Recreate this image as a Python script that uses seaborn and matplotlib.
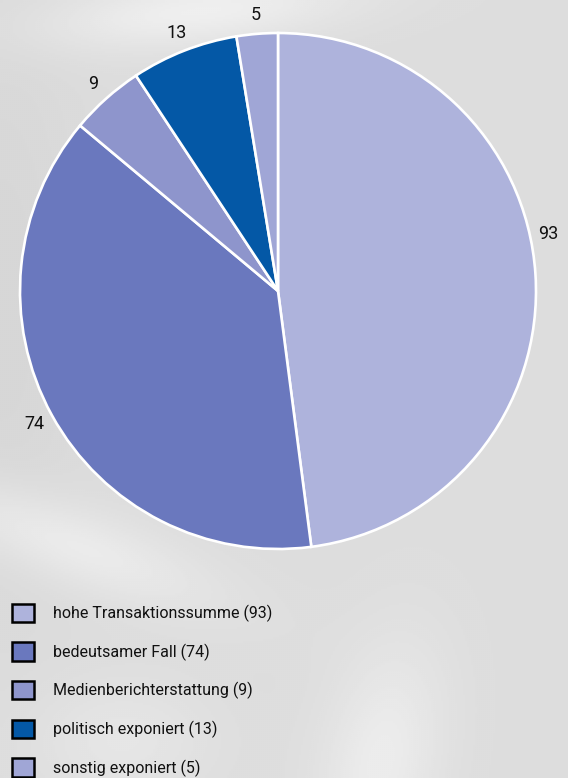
import numpy as np
import matplotlib
matplotlib.use("Agg")
import matplotlib.pyplot as plt
from matplotlib.patches import Patch
import seaborn as sns

categories = ["hohe Transaktionssumme", "bedeutsamer Fall", "Medienberichterstattung",
              "politisch exponiert", "sonstig exponiert"]
values = [93, 74, 9, 13, 5]
colors = ["#AEB3DC", "#6A78BE", "#8E95CC", "#0458A6", "#A0A6D6"]

sns.set_style("white")
plt.rcParams['font.family'] = ['Roboto', 'DejaVu Sans']

W, H = 568, 778
fig = plt.figure(figsize=(W / 100, H / 100), dpi=100)

# background: light grey with soft bright streaks
bg = fig.add_axes([0, 0, 1, 1])
yy, xx = np.mgrid[0:H:2, 0:W:2].astype(float)
img = 0.865 + 0.0 * xx


def streak(x0, y0, sx, sy, amp, rot=0.0):
    c, s = np.cos(rot), np.sin(rot)
    u = (xx - x0) * c + (yy - y0) * s
    v = -(xx - x0) * s + (yy - y0) * c
    return amp * np.exp(-((u / sx) ** 2 + (v / sy) ** 2))


img = img + streak(60, 540, 160, 40, 0.06, 0.35)
img = img + streak(200, 10, 160, 35, 0.07, -0.1)
img = img + streak(380, 760, 60, 120, 0.06, 0.2)
img = img + streak(120, 740, 90, 60, 0.035, 0.0)
img = img - streak(0, 300, 80, 300, 0.025)
img = np.clip(img, 0, 1)
bg.imshow(img, cmap="gray", vmin=0, vmax=1, aspect="auto", extent=[0, 1, 0, 1],
          origin="upper")
bg.set_axis_off()

cx, cy, r = 278, 291, 258
ax = fig.add_axes([(cx - r) / W, (H - cy - r) / H, 2 * r / W, 2 * r / H])
wedges, texts = ax.pie(values, colors=colors, startangle=90, counterclock=False,
                       labels=[str(v) for v in values], labeldistance=1.075,
                       wedgeprops=dict(edgecolor="white", linewidth=1.9),
                       textprops=dict(fontsize=13, color="#111111"))
for t in texts:
    t.set_ha("center")
    t.set_va("center")
# shift label of largest slice slightly upward
ang = np.deg2rad(12)
texts[0].set_position((1.07 * np.cos(ang), 1.07 * np.sin(ang)))
ax.set_xlim(-1, 1)
ax.set_ylim(-1, 1)
ax.set_aspect("equal")
ax.set_axis_off()

handles = [Patch(facecolor=c, edgecolor="black", linewidth=1.8) for c in colors]
labels = [f"{c} ({v})" for c, v in zip(categories, values)]
fig.legend(handles, labels, loc="upper left", bbox_to_anchor=(12 / W, 1 - 603.5 / H),
           frameon=False, fontsize=11.5, handlelength=1.4, handleheight=1.4,
           handletextpad=1.15, labelspacing=1.27, borderaxespad=0, borderpad=0,
           labelcolor="#111111")

fig.savefig("out.png", dpi=100)
